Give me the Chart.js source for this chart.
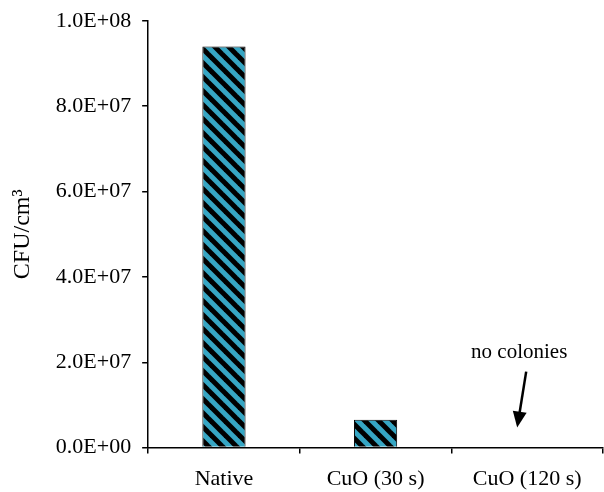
<!DOCTYPE html>
<html>
<head>
<meta charset="utf-8">
<script src="https://cdn.jsdelivr.net/npm/chart.js@4"></script>
<style>
  html, body { margin: 0; padding: 0; background: #fff; }
  #wrap { width: 604px; height: 492px; }
</style>
</head>
<body>
<div id="wrap"><canvas id="cfuChart" width="604" height="492"></canvas></div>
<script>
const categories = ['Native', 'CuO (30 s)', 'CuO (120 s)'];
const cfuValues = [9.4e7, 6.5e6, 0];
const yTickValues = [0, 2e7, 4e7, 6e7, 8e7, 1e8];
const noteText = 'no colonies';

document.addEventListener('DOMContentLoaded', () => {
  const ctx = document.getElementById('cfuChart').getContext('2d');

  // striped fill: teal with black diagonal bands
  const makeStripes = () => {
    const s = 14;
    const tile = document.createElement('canvas');
    tile.width = s;
    tile.height = s;
    const t = tile.getContext('2d');
    t.fillStyle = '#36a6c4';
    t.fillRect(0, 0, s, s);
    t.strokeStyle = '#000';
    t.lineWidth = 5;
    t.lineCap = 'square';
    for (const off of [-s, 0, s]) {
      t.beginPath();
      t.moveTo(off - 2, -2);
      t.lineTo(off + s + 2, s + 2);
      t.stroke();
    }
    return ctx.createPattern(tile, 'repeat');
  };

  // "no colonies" label with arrow over the last category
  const notePlugin = {
    id: 'note',
    afterDraw(chart) {
      const { x, y } = chart.scales;
      const cx = x.getPixelForValue(2);
      const c = chart.ctx;
      c.save();
      c.fillStyle = '#000';
      c.font = '21px "Liberation Serif"';
      c.textAlign = 'center';
      c.textBaseline = 'middle';
      c.fillText(noteText, cx - 8, y.getPixelForValue(2.22e7));
      const x0 = cx - 1, y0 = y.getPixelForValue(1.78e7);
      const x1 = cx - 10, y1 = y.getPixelForValue(0.47e7);
      const ang = Math.atan2(y1 - y0, x1 - x0);
      c.strokeStyle = '#000';
      c.lineWidth = 2.5;
      c.beginPath();
      c.moveTo(x0, y0);
      c.lineTo(x1 - 12 * Math.cos(ang), y1 - 12 * Math.sin(ang));
      c.stroke();
      c.beginPath();
      c.moveTo(x1, y1);
      c.lineTo(x1 - 16 * Math.cos(ang) + 7 * Math.sin(ang), y1 - 16 * Math.sin(ang) - 7 * Math.cos(ang));
      c.lineTo(x1 - 16 * Math.cos(ang) - 7 * Math.sin(ang), y1 - 16 * Math.sin(ang) + 7 * Math.cos(ang));
      c.closePath();
      c.fill();
      c.restore();
    }
  };

  const serif = { family: '"Liberation Serif", "Times New Roman", serif', size: 22 };

  new Chart(ctx, {
    type: 'bar',
    data: {
      labels: categories,
      datasets: [{
        data: cfuValues,
        backgroundColor: makeStripes(),
        borderColor: '#000',
        borderWidth: 1,
        borderSkipped: 'start',
        categoryPercentage: 1,
        barPercentage: 0.285
      }]
    },
    options: {
      responsive: false,
      animation: false,
      layout: { padding: { top: 1, right: 1, left: 0, bottom: -12 } },
      plugins: { legend: { display: false }, tooltip: { enabled: false } },
      scales: {
        x: {
          offset: true,
          grid: { display: true, drawOnChartArea: false, offset: true, tickLength: 6, color: '#000', lineWidth: 1.5 },
          border: { display: true, color: '#000', width: 1.5 },
          ticks: { color: '#000', font: serif, padding: 12, maxRotation: 0 }
        },
        y: {
          min: 0,
          max: 1e8,
          afterBuildTicks: axis => { axis.ticks = yTickValues.map(v => ({ value: v })); },
          grid: { display: true, drawOnChartArea: false, tickLength: 6, color: '#000', lineWidth: 1.5 },
          border: { display: true, color: '#000', width: 1.5 },
          ticks: {
            color: '#000',
            font: { ...serif, lineHeight: 0.9 },
            padding: 11,
            callback: v => {
              const [m, e] = Number(v).toExponential(1).split('e');
              const n = Math.abs(parseInt(e, 10));
              return m + 'E' + (e[0] === '-' ? '-' : '+') + String(n).padStart(2, '0');
            }
          },
          title: { display: true, text: 'CFU/cm³', color: '#000', font: { ...serif, size: 24 }, padding: { top: 8, bottom: 8 } }
        }
      }
    },
    plugins: [notePlugin]
  });
});
</script>
</body>
</html>
